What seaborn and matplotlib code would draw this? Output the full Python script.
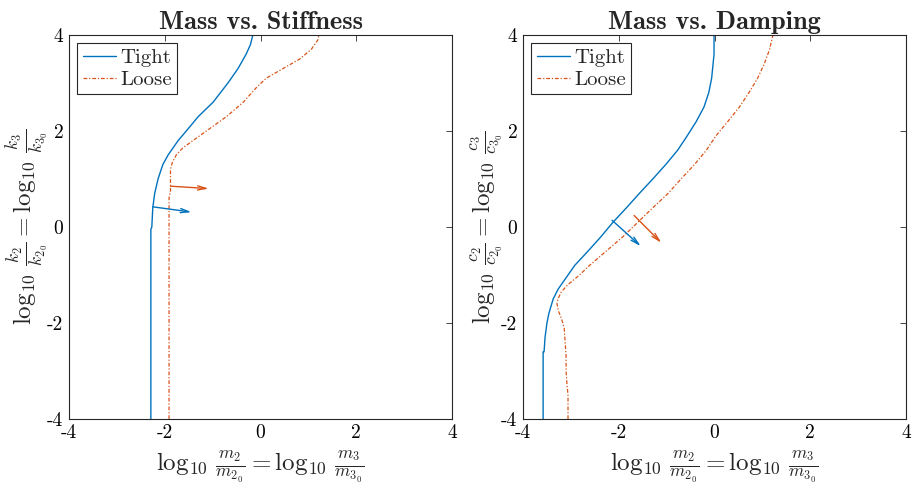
import numpy as np
import pandas as pd
import matplotlib
matplotlib.use("Agg")
import matplotlib.pyplot as plt
import seaborn as sns

# ---- data ----
# Mass vs. Stiffness
stiff_tight_x = [-2.29, -2.29, -2.27, -2.25, -2.21, -2.14, -2.04, -1.93, -1.72, -1.55,
                 -1.30, -0.99, -0.68, -0.47, -0.30, -0.21, -0.16]
stiff_tight_y = [-4.0, -0.05, 0.0, 0.4, 0.7, 1.0, 1.3, 1.5, 1.8, 2.0,
                 2.3, 2.6, 3.0, 3.3, 3.6, 3.8, 4.0]
stiff_loose_x = [-1.91, -1.91, -1.88, -1.88, -1.84, -1.76, -1.62, -1.41, -1.13, -0.71,
                 -0.36, -0.09, 0.12, 0.47, 0.82, 1.06, 1.20, 1.22]
stiff_loose_y = [-4.0, 0.6, 0.75, 1.2, 1.35, 1.5, 1.65, 1.8, 2.0, 2.3,
                 2.6, 2.9, 3.1, 3.3, 3.5, 3.7, 3.9, 4.0]

# Mass vs. Damping
damp_tight_x = [-3.58, -3.58, -3.56, -3.54, -3.50, -3.46, -3.37, -3.27, -3.06, -2.92,
                -2.64, -2.37, -2.12, -1.84, -1.57, -1.29, -1.02, -0.77, -0.57, -0.38,
                -0.22, -0.12, -0.06, -0.03, -0.01, -0.01]
damp_tight_y = [-4.0, -2.6, -2.6, -2.3, -2.0, -1.8, -1.5, -1.3, -1.0, -0.8,
                -0.5, -0.2, 0.1, 0.4, 0.7, 1.0, 1.3, 1.6, 1.9, 2.2,
                2.5, 2.8, 3.1, 3.4, 3.6, 4.0]
damp_loose_x = [-3.06, -3.06, -3.08, -3.10, -3.10, -3.12, -3.14, -3.20, -3.26, -3.29,
                -3.27, -3.20, -3.06, -2.82, -2.61, -2.26, -1.91, -1.60, -1.29, -0.97,
                -0.70, -0.42, -0.17, 0.03, 0.28, 0.52, 0.72, 0.90, 1.04, 1.15, 1.22]
damp_loose_y = [-4.0, -3.5, -3.3, -3.0, -2.7, -2.4, -2.1, -1.9, -1.75, -1.6,
                -1.5, -1.35, -1.2, -1.0, -0.8, -0.5, -0.2, 0.1, 0.4, 0.7,
                1.0, 1.3, 1.6, 1.9, 2.2, 2.5, 2.8, 3.1, 3.4, 3.7, 4.0]

# gradient arrows: (x0, y0, x1, y1)
stiff_arrow_tight = [-2.25, 0.42, -1.44, 0.31]
stiff_arrow_loose = [-1.88, 0.85, -1.08, 0.80]
damp_arrow_tight = [-2.14, 0.14, -1.54, -0.40]
damp_arrow_loose = [-1.68, 0.24, -1.11, -0.33]

titles = ["Mass vs. Stiffness", "Mass vs. Damping"]
xlabel = r"$\log_{10}\,\frac{m_2}{m_{2_0}} = \log_{10}\,\frac{m_3}{m_{3_0}}$"
ylabels = [r"$\log_{10}\,\frac{k_2}{k_{2_0}} = \log_{10}\,\frac{k_3}{k_{3_0}}$",
           r"$\log_{10}\,\frac{c_2}{c_{2_0}} = \log_{10}\,\frac{c_3}{c_{3_0}}$"]
ticks = [-4, -2, 0, 2, 4]

blue = "#0072BD"
orange = "#D95319"

# ---- style ----
sns.set_style("white")
plt.rcParams["font.family"] = ["cmr10", "DejaVu Serif"]
plt.rcParams["mathtext.fontset"] = "cm"
plt.rcParams["axes.unicode_minus"] = False
plt.rcParams["axes.formatter.use_mathtext"] = False

fig = plt.figure(figsize=(9.15, 4.9), dpi=100)
ax1 = fig.add_axes([0.0754, 0.1449, 0.4186, 0.7837])
ax2 = fig.add_axes([0.5716, 0.1449, 0.4186, 0.7837])

panels = [
    (ax1, stiff_tight_x, stiff_tight_y, stiff_loose_x, stiff_loose_y,
     stiff_arrow_tight, stiff_arrow_loose),
    (ax2, damp_tight_x, damp_tight_y, damp_loose_x, damp_loose_y,
     damp_arrow_tight, damp_arrow_loose),
]

for i, (ax, tx, ty, lx, ly, at, al) in enumerate(panels):
    tight = pd.DataFrame({"x": tx, "y": ty})
    loose = pd.DataFrame({"x": lx, "y": ly})
    sns.lineplot(data=tight, x="x", y="y", ax=ax, sort=False, estimator=None,
                 color=blue, linewidth=1.0, label="Tight")
    sns.lineplot(data=loose, x="x", y="y", ax=ax, sort=False, estimator=None,
                 color=orange, linewidth=0.9, linestyle=(0, (3, 1.5, 1, 1.5)),
                 label="Loose")

    for arr, c in [(at, blue), (al, orange)]:
        ax.annotate("", xy=(arr[2], arr[3]), xytext=(arr[0], arr[1]),
                    arrowprops=dict(arrowstyle="->,head_length=0.6,head_width=0.15",
                                    color=c, lw=1.0, shrinkA=0, shrinkB=0))

    ax.set_xlim(-4, 4)
    ax.set_ylim(-4, 4)
    ax.set_xticks(ticks)
    ax.set_yticks(ticks)
    ax.tick_params(direction="in", top=True, right=True, length=4, width=0.6,
                   labelsize=14, pad=4, colors="#262626")
    ax.tick_params(labelcolor="black")
    for s in ax.spines.values():
        s.set_visible(True)
        s.set_color("#262626")
        s.set_linewidth(0.8)

    ax.set_title(titles[i], fontfamily="cmb10", fontsize=19, pad=4)
    ax.set_xlabel(xlabel, fontsize=18, labelpad=4)
    ax.set_ylabel(ylabels[i], fontsize=18, labelpad=-2)

    leg = ax.legend(loc="upper left", fontsize=15, handlelength=1.6,
                    borderaxespad=0.4, borderpad=0.25, labelspacing=0.15,
                    handletextpad=0.2, fancybox=False, framealpha=1)
    leg.get_frame().set_edgecolor("#262626")
    leg.get_frame().set_linewidth(0.8)

fig.savefig("out.png", dpi=100)
